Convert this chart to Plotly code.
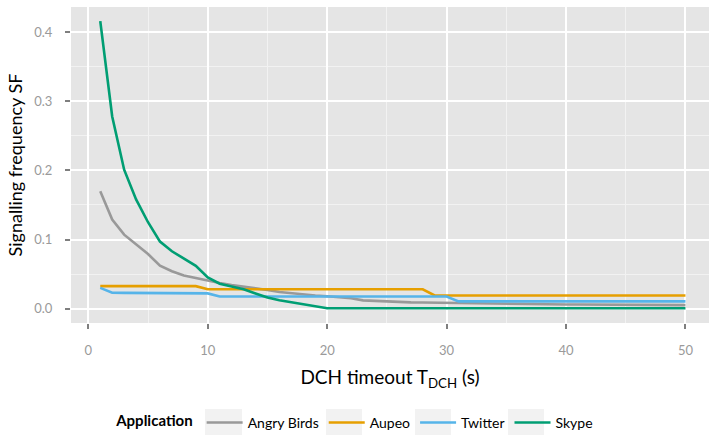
import plotly.graph_objects as go

x = list(range(1, 51))

angry_birds = [0.170, 0.129, 0.107, 0.093, 0.079, 0.062, 0.054, 0.048, 0.044, 0.040,
               0.037, 0.034, 0.032, 0.030, 0.027, 0.024, 0.022, 0.021, 0.019, 0.018,
               0.017, 0.015, 0.012, 0.011, 0.010, 0.0095, 0.009, 0.0088, 0.0085, 0.008,
               0.0078, 0.0075, 0.0073, 0.0071, 0.0069, 0.0067, 0.0065, 0.0063, 0.0062, 0.006,
               0.0059, 0.0058, 0.0057, 0.0056, 0.0055, 0.0054, 0.0053, 0.0052, 0.0051, 0.005]
aupeo = [0.0325] * 9 + [0.028] * 19 + [0.019] * 22
twitter = [0.030] + [0.023, 0.0228, 0.0226, 0.0225, 0.0224, 0.0223, 0.0222, 0.0221, 0.022] + [0.0175] * 20 + [0.0105] * 20
skype = [0.416, 0.278, 0.201, 0.158, 0.125, 0.097, 0.083, 0.072, 0.062, 0.045,
         0.036, 0.032, 0.028, 0.022, 0.016, 0.012, 0.009, 0.007, 0.004, 0.0005] + [0.0005] * 30

series = [("Angry Birds", angry_birds, "#999999"),
          ("Aupeo", aupeo, "#E69F00"),
          ("Twitter", twitter, "#56B4E9"),
          ("Skype", skype, "#009E73")]

FONT = "Lato"
W, H = 709, 435
ML, MR, MT, MB = 71, 0, 7, 112

fig = go.Figure()
for name, ys, col in series:
    fig.add_trace(go.Scatter(x=x, y=ys, mode="lines", name=name,
                             line=dict(color=col, width=2.6)))

axis_common = dict(
    showgrid=True, gridcolor="white", gridwidth=1.6,
    zeroline=False, showline=False,
    ticks="outside", ticklen=5, tickwidth=1.5, tickcolor="#7F7F7F",
    tickfont=dict(family=FONT, size=13, color="#9A9A9A"),
)

fig.update_xaxes(range=[-1.45, 51.97], tickvals=[0, 10, 20, 30, 40, 50],
                 ticklabelstandoff=10,
                 minor=dict(tickvals=[5, 15, 25, 35, 45], showgrid=True,
                            gridcolor="#F2F2F2", gridwidth=0.8, ticks=""),
                 title=dict(text="DCH timeout T<sub>DCH</sub> (s)",
                            font=dict(family=FONT, size=19, color="black"), standoff=14),
                 **axis_common)
fig.update_yaxes(range=[-0.0208, 0.4364], tickvals=[0, 0.1, 0.2, 0.3, 0.4],
                 ticktext=["0.0", "0.1", "0.2", "0.3", "0.4"],
                 ticklabelstandoff=10,
                 minor=dict(tickvals=[0.05, 0.15, 0.25, 0.35], showgrid=True,
                            gridcolor="#F2F2F2", gridwidth=0.8, ticks=""),
                 title=dict(text="Signalling frequency SF",
                            font=dict(family=FONT, size=18, color="black"), standoff=6),
                 **axis_common)

# light grey legend key backgrounds (pixel positions converted to paper coords)
pw, ph = W - ML - MR, H - MT - MB
key_px = [(205, 242), (326, 362), (415, 451), (508, 544)]
shapes = []
for x0, x1 in key_px:
    shapes.append(dict(type="rect", xref="paper", yref="paper", layer="below",
                       x0=(x0 - ML) / pw, x1=(x1 - ML) / pw,
                       y0=(H - MB - 435) / ph, y1=(H - MB - 409) / ph,
                       fillcolor="#F2F2F2", line=dict(width=0)))

fig.update_layout(
    width=W, height=H,
    margin=dict(l=ML, r=MR, t=MT, b=MB, autoexpand=False),
    plot_bgcolor="#E5E5E5", paper_bgcolor="white",
    font=dict(family=FONT, color="black"),
    shapes=shapes,
    legend=dict(orientation="h", x=0.447, xanchor="center", y=-0.316, yanchor="middle",
                bgcolor="rgba(0,0,0,0)",
                title=dict(text="<b>Application</b>", font=dict(family=FONT, size=15)),
                font=dict(family=FONT, size=14), itemwidth=36),
)

fig.write_html("out.html")
